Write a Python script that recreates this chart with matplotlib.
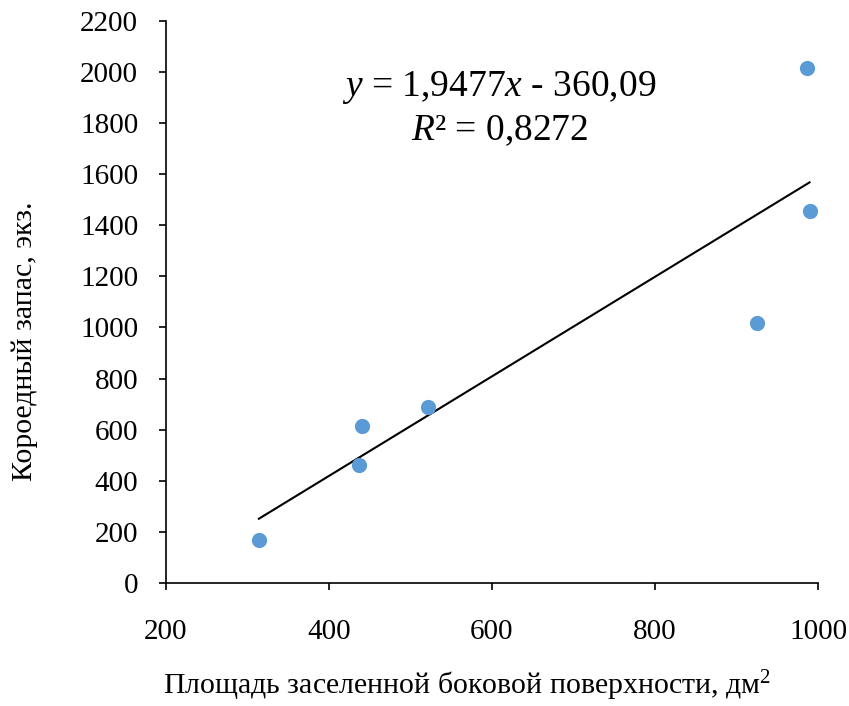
"""Scatter of bark-beetle stock vs colonised lateral surface with a linear trend."""

import matplotlib.pyplot as plt
import numpy as np

# data
surface_dm2 = [314, 437, 441, 522, 925, 986, 989.6]
beetle_stock = [168, 462, 615, 690, 1016, 2016, 1457]

trend_slope = 1.9477
trend_intercept = -360.09
trend_r2 = 0.8272

x_ticks = [200, 400, 600, 800, 1000]
y_ticks = list(range(0, 2201, 200))

plt.rcParams["font.family"] = ["Liberation Serif", "DejaVu Serif"]
plt.rcParams["mathtext.fontset"] = "custom"
plt.rcParams["mathtext.rm"] = "Liberation Serif"
plt.rcParams["mathtext.it"] = "Liberation Serif:italic"

fig = plt.figure(figsize=(8.49, 7.06), dpi=100)
ax = fig.add_axes([0.1955, 0.1742, 0.768, 0.7965])

ax.scatter(surface_dm2, beetle_stock, s=120, color="#5B9BD5", zorder=3, linewidths=0)

x_line = np.array([min(surface_dm2), max(surface_dm2)])
ax.plot(x_line, trend_slope * x_line + trend_intercept, color="black", lw=1.5, zorder=2)

ax.set_xlim(200, 1000)
ax.set_ylim(0, 2200)
ax.set_xticks(x_ticks)
ax.set_yticks(y_ticks)
ax.tick_params(direction="out", length=5, width=1.2, labelsize=21, color="black")
ax.tick_params(axis="x", pad=21)
ax.tick_params(axis="y", pad=15)
for side in ("top", "right"):
    ax.spines[side].set_visible(False)
for side in ("left", "bottom"):
    ax.spines[side].set_linewidth(1.2)

ax.set_xlabel("Площадь заселенной боковой поверхности, дм$^2$", fontsize=21.5)
ax.xaxis.set_label_coords(0.462, -0.152)
ax.set_ylabel("Короедный запас, экз.", fontsize=21.5)
ax.yaxis.set_label_coords(-0.196, 0.43)

eq = f"$y$ = {trend_slope:.4f}".replace(".", ",") + "$x$" + f" - {abs(trend_intercept):.2f}".replace(".", ",")
r2 = f"$R$² = {trend_r2:.4f}".replace(".", ",")
ax.text(0.511, 0.881, eq, transform=ax.transAxes, ha="center", va="center", fontsize=27)
ax.text(0.511, 0.804, r2, transform=ax.transAxes, ha="center", va="center", fontsize=27)

fig.savefig("out.png", dpi=100)
